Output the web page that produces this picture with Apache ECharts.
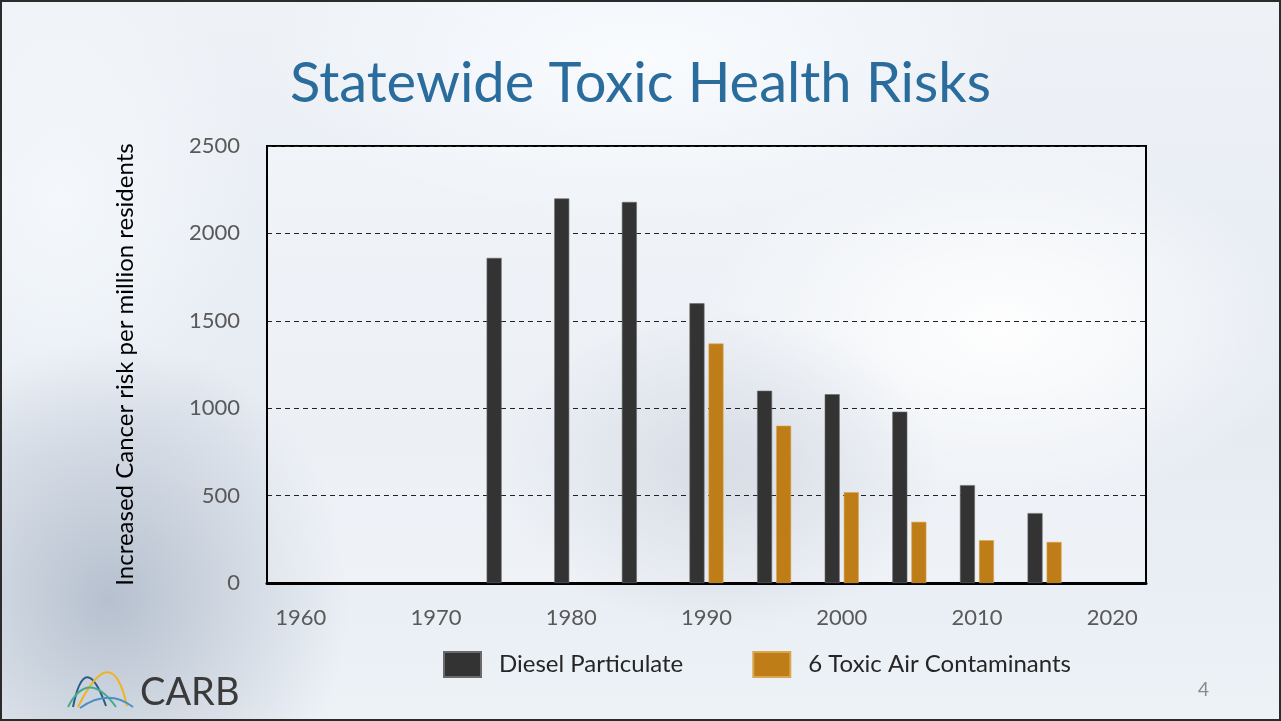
<!DOCTYPE html>
<html>
<head>
<meta charset="utf-8">
<title>Statewide Toxic Health Risks</title>
<script src="https://cdn.jsdelivr.net/npm/echarts@6/dist/echarts.min.js"></script>
<style>
  html, body { margin: 0; padding: 0; }
  body {
    width: 1281px; height: 721px; overflow: hidden;
    background:
      radial-gradient(ellipse 240px 260px at 110px 600px, rgba(160,172,190,0.7), rgba(160,172,190,0) 100%),
      radial-gradient(ellipse 220px 160px at 720px 470px, rgba(190,198,212,0.7), rgba(190,198,212,0) 100%),
      radial-gradient(ellipse 300px 180px at 1000px 330px, rgba(255,255,255,0.95), rgba(255,255,255,0) 100%),
      radial-gradient(ellipse 380px 160px at 640px 60px, rgba(250,252,255,0.9), rgba(250,252,255,0) 100%),
      radial-gradient(ellipse 200px 260px at 60px 200px, rgba(245,249,253,0.9), rgba(245,249,253,0) 100%),
      linear-gradient(180deg, #eef2f7 0%, #e6ebf2 60%, #edf2f7 100%);
  }
  #chart { width: 1281px; height: 721px; position: absolute; left: 0; top: 0; }
  #frame { position: absolute; left: 0; top: 0; width: 1277px; height: 717px; border: 2px solid #2b2b2b; pointer-events: none; }
</style>
</head>
<body>
<div id="chart"></div>
<div id="frame"></div>
<script>
// 数据
const years = [1975, 1980, 1985, 1990, 1995, 2000, 2005, 2010, 2015];
const dieselValues = [1860, 2200, 2180, 1600, 1100, 1080, 980, 560, 400];
const toxicYears = [1990, 1995, 2000, 2005, 2010, 2015];
const toxicValues = [1370, 900, 520, 350, 245, 235];
const xTickLabels = [1960, 1970, 1980, 1990, 2000, 2010, 2020];
const yTickLabels = [0, 500, 1000, 1500, 2000, 2500];

const font = 'Lato, "Open Sans", sans-serif';

const chart = echarts.init(document.getElementById('chart'), null, { renderer: 'canvas' });

const option = {
  backgroundColor: 'transparent',
  animation: false,
  title: {
    text: 'Statewide Toxic Health Risks',
    left: 'center',
    top: 51,
    textStyle: { color: '#2a6d9c', fontFamily: font, fontSize: 56, fontWeight: 400 }
  },
  legend: {
    left: 443,
    top: 651,
    padding: 0,
    itemWidth: 37,
    itemHeight: 25,
    itemGap: 69,
    icon: 'rect',
    textStyle: { color: '#262626', fontFamily: font, fontSize: 24, padding: [0, 0, 0, 13] },
    data: ['Diesel Particulate', '6 Toxic Air Contaminants']
  },
  grid: {
    left: 267,
    right: 135,
    top: 146,
    bottom: 138,
    show: true,
    borderColor: '#000',
    borderWidth: 2,
    backgroundColor: 'rgba(255,255,255,0.25)'
  },
  xAxis: {
    type: 'value',
    min: 1957.5,
    max: 2022.5,
    axisLine: { show: true, lineStyle: { color: '#000', width: 3 } },
    axisTick: { show: false },
    splitLine: { show: false },
    axisLabel: {
      customValues: xTickLabels,
      color: '#595959',
      fontFamily: font,
      fontSize: 22,
      margin: 24,
      formatter: v => String(v)
    }
  },
  yAxis: {
    type: 'value',
    min: 0,
    max: 2500,
    interval: 500,
    name: 'Increased Cancer risk per million residents',
    nameLocation: 'middle',
    nameGap: 130,
    nameTextStyle: { color: '#000', fontFamily: font, fontSize: 24 },
    axisLine: { show: true, lineStyle: { color: '#000', width: 2 } },
    axisTick: { show: false },
    splitLine: { show: true, lineStyle: { color: '#222', type: [5, 4], width: 1 } },
    axisLabel: {
      color: '#595959',
      fontFamily: font,
      fontSize: 22,
      margin: 27,
      formatter: v => (yTickLabels.includes(v) ? String(v) : '')
    }
  },
  series: [
    {
      name: 'Diesel Particulate',
      type: 'bar',
      barWidth: 15,
      barGap: '27%',
      itemStyle: { color: '#333333', borderColor: '#6a6a6a', borderWidth: 0.6 },
      data: years.map((y, i) => [y, dieselValues[i]])
    },
    {
      name: '6 Toxic Air Contaminants',
      type: 'bar',
      barWidth: 15,
      barGap: '27%',
      itemStyle: { color: '#bf7d18', borderColor: '#d9a650', borderWidth: 0.6 },
      data: toxicYears.map((y, i) => [y, toxicValues[i]])
    }
  ],
  graphic: [
    // CARB logo
    { type: 'bezierCurve', shape: { x1: 73, y1: 707, cpx1: 85, cpy1: 648, x2: 106, y2: 706 }, style: { stroke: '#2a5a8a', lineWidth: 2, fill: null } },
    { type: 'bezierCurve', shape: { x1: 78, y1: 707, cpx1: 112, cpy1: 638, x2: 127, y2: 706 }, style: { stroke: '#f0b31e', lineWidth: 2, fill: null } },
    { type: 'bezierCurve', shape: { x1: 68, y1: 707, cpx1: 88, cpy1: 668, x2: 116, y2: 707 }, style: { stroke: '#45ad8a', lineWidth: 2, fill: null } },
    { type: 'bezierCurve', shape: { x1: 80, y1: 708, cpx1: 108, cpy1: 688, x2: 133, y2: 707 }, style: { stroke: '#4b8fc6', lineWidth: 2, fill: null } },
    { type: 'text', left: 140, top: 674, style: { text: 'CARB', fill: '#3a3a3a', font: '400 38px ' + font } },
    { type: 'text', left: 1198, top: 680, style: { text: '4', fill: '#8a8a8a', font: '400 19px ' + font } }
  ]
};

chart.setOption(option);
</script>
</body>
</html>
